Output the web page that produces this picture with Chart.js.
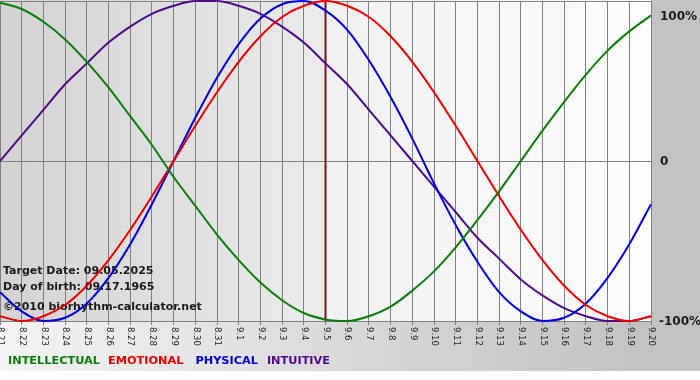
<!DOCTYPE html>
<html>
<head>
<meta charset="utf-8">
<script src="https://cdn.jsdelivr.net/npm/chart.js@4.4.1/dist/chart.umd.min.js"></script>
<style>
html,body{margin:0;padding:0;background:#fff;}
canvas{display:block;}
</style>
</head>
<body>
<canvas id="c" width="700" height="380"></canvas>
<script>
const categories = ['8.21','8.22','8.23','8.24','8.25','8.26','8.27','8.28','8.29','8.30','8.31',
  '9.1','9.2','9.3','9.4','9.5','9.6','9.7','9.8','9.9','9.10','9.11','9.12','9.13','9.14','9.15',
  '9.16','9.17','9.18','9.19','9.20'];
const intellectual = [99,95,87,76,62,46,28,10,-10,-28,-46,-62,-76,-87,-95,-99,-100,-97,-91,-81,-69,-54,-37,-19,0,19,37,54,69,81,91];
const emotional = [-97,-100,-97,-90,-78,-62,-43,-22,0,22,43,62,78,90,97,100,97,90,78,62,43,22,0,-22,-43,-62,-78,-90,-97,-100,-97];
const physical = [-82,-94,-100,-98,-89,-73,-52,-27,0,27,52,73,89,98,100,94,82,63,40,14,-14,-40,-63,-82,-94,-100,-98,-89,-73,-52,-27];
const intuitive = [0,16,32,48,61,74,84,92,97,100,100,97,92,84,74,61,48,32,16,0,-16,-32,-48,-61,-74,-84,-92,-97,-100,-100,-97];
const yTickLabels = ['100%','0','-100%'];
const yTickValues = [100,0,-100];
const targetCategory = '9.5';
const infoLines = ['Target Date: 09.05.2025','Day of birth: 09.17.1965','©2010 biorhythm-calculator.net'];
const legendNames = ['INTELLECTUAL','EMOTIONAL','PHYSICAL','INTUITIVE'];
const seriesColors = ['#0b7d0b','#ee0000','#0000dd','#4e0a8a'];

const bgPlugin = {
  id: 'bg',
  beforeDraw(chart) {
    const ctx = chart.ctx, a = chart.chartArea;
    ctx.save();
    ctx.fillStyle = '#ffffff';
    ctx.fillRect(0, 0, chart.width, chart.height);
    let g = ctx.createLinearGradient(0, 0, 640, 0);
    g.addColorStop(0, '#f4f4f4');
    g.addColorStop(1, '#c2c2c2');
    ctx.fillStyle = g;
    ctx.fillRect(0, 0, chart.width, 371);
    const tx = chart.scales.x.getPixelForValue(categories.indexOf(targetCategory));
    g = ctx.createLinearGradient(a.left, 0, tx, 0);
    g.addColorStop(0, '#d3d3d3');
    g.addColorStop(1, '#ebebeb');
    ctx.fillStyle = g;
    ctx.fillRect(a.left, a.top - 1, tx - a.left, a.bottom - a.top + 1);
    g = ctx.createLinearGradient(tx, 0, a.right, 0);
    g.addColorStop(0, '#f1f1f1');
    g.addColorStop(1, '#fdfdfd');
    ctx.fillStyle = g;
    ctx.fillRect(tx, a.top - 1, a.right - tx, a.bottom - a.top + 1);
    ctx.restore();
  },
  beforeDatasetsDraw(chart) {
    const ctx = chart.ctx, a = chart.chartArea;
    const tx = chart.scales.x.getPixelForValue(categories.indexOf(targetCategory));
    ctx.save();
    ctx.strokeStyle = '#7a1212';
    ctx.lineWidth = 2;
    ctx.beginPath();
    ctx.moveTo(tx, a.top);
    ctx.lineTo(tx, a.bottom);
    ctx.stroke();
    ctx.fillStyle = '#1a1a1a';
    ctx.font = 'bold 11px "DejaVu Sans"';
    ctx.textBaseline = 'middle';
    ctx.textAlign = 'left';
    ctx.fillText(infoLines[0], 3, 271);
    ctx.fillText(infoLines[1], 3, 287);
    ctx.fillText(infoLines[2], 3, 307);
    ctx.restore();
  },
  afterDraw(chart) {
    const ctx = chart.ctx, a = chart.chartArea;
    const xs = chart.scales.x, ys = chart.scales.y;
    ctx.save();
    ctx.fillStyle = '#222';
    ctx.font = '8.5px "DejaVu Sans"';
    ctx.textAlign = 'left';
    ctx.textBaseline = 'middle';
    categories.forEach((c, i) => {
      const x = xs.getPixelForValue(i);
      ctx.save();
      ctx.translate(x + 0.5, a.bottom + 6);
      ctx.rotate(Math.PI / 2);
      ctx.fillText(c, 0, 0);
      ctx.restore();
    });
    ctx.font = 'bold 12px "DejaVu Sans"';
    ctx.fillStyle = '#1a1a1a';
    yTickValues.forEach((v, i) => {
      let y = ys.getPixelForValue(v);
      if (y < a.top + 15) y = a.top + 15;
      ctx.fillText(yTickLabels[i], yTickLabels[i] === '-100%' ? 659 : 660, y + 1);
    });
    ctx.font = 'bold 11.3px "DejaVu Sans"';
    const gaps = [8, 12, 9, 0];
    let lx = 8;
    legendNames.forEach((n, i) => {
      ctx.fillStyle = seriesColors[i];
      ctx.fillText(n, lx, 361);
      lx += ctx.measureText(n).width + gaps[i];
    });
    ctx.restore();
  }
};

const mk = (label, data, color) => ({
  label, data, borderColor: color, backgroundColor: color,
  borderWidth: 2, pointRadius: 0, fill: false, cubicInterpolationMode: 'monotone', clip: 2
});

new Chart(document.getElementById('c'), {
  type: 'line',
  data: {
    labels: categories,
    datasets: [
      mk(legendNames[0], intellectual, seriesColors[0]),
      mk(legendNames[1], emotional, seriesColors[1]),
      mk(legendNames[2], physical, seriesColors[2]),
      mk(legendNames[3], intuitive, seriesColors[3])
    ]
  },
  plugins: [bgPlugin],
  options: {
    responsive: false,
    animation: false,
    devicePixelRatio: 1,
    layout: { padding: { left: 0, top: 1, right: 49, bottom: 55 } },
    plugins: { legend: { display: false }, tooltip: { enabled: false } },
    scales: {
      x: {
        type: 'category',
        offset: false,
        ticks: { display: false },
        grid: { color: '#808080', lineWidth: 1, drawTicks: true, tickLength: 4 },
        border: { display: false }
      },
      y: {
        position: 'right',
        min: -100, max: 100,
        ticks: { display: false, stepSize: 100 },
        grid: { color: '#808080', lineWidth: 1, drawTicks: false },
        border: { display: false }
      }
    }
  }
});
</script>
</body>
</html>
